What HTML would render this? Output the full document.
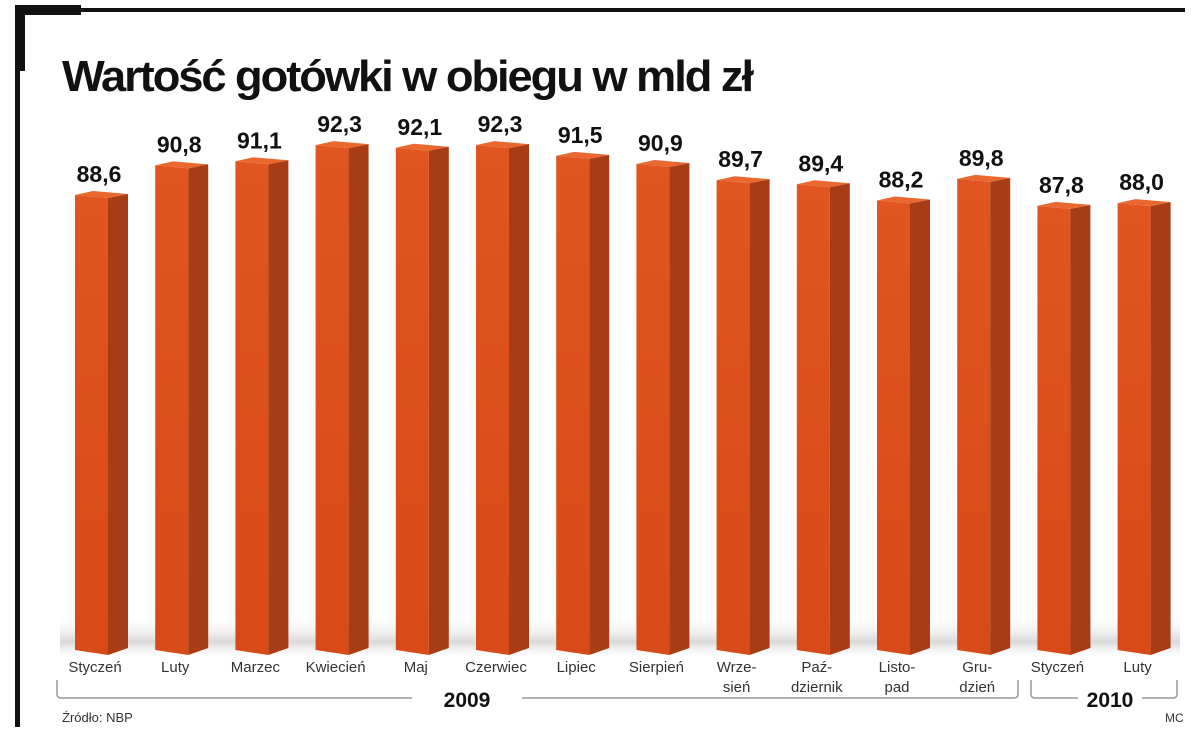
<!DOCTYPE html>
<html><head><meta charset="utf-8">
<style>
html,body{margin:0;padding:0;background:#fff;}
body{width:1200px;height:742px;overflow:hidden;position:relative;font-family:"Liberation Sans",sans-serif;}
</style></head>
<body>
<svg width="1200" height="742" viewBox="0 0 1200 742">
<defs>
<linearGradient id="fg" x1="0" y1="0" x2="0" y2="1">
<stop offset="0" stop-color="#e05520"/><stop offset="1" stop-color="#d84a18"/></linearGradient>
<linearGradient id="sh" x1="0" y1="0" x2="0" y2="1">
<stop offset="0" stop-color="#fff" stop-opacity="0"/><stop offset="0.6" stop-color="#d8d8d8"/><stop offset="1" stop-color="#fff" stop-opacity="0"/></linearGradient>
</defs>
<rect x="15" y="8" width="1170" height="4" fill="#111"/>
<rect x="15" y="5" width="66" height="10" fill="#111"/>
<rect x="15" y="5" width="10" height="66" fill="#111"/>
<rect x="15" y="5" width="5" height="722" fill="#111"/>
<text x="62" y="91" font-size="44" font-weight="bold" fill="#111" letter-spacing="-2" textLength="690" lengthAdjust="spacingAndGlyphs">Wartość gotówki w obiegu w mld zł</text>
<rect x="60" y="615" width="1120" height="45" fill="url(#sh)"/>
<g id="bars"></g>
<g id="labels"></g>
<path d="M57 680 v14 q0 4 4 4 H412 M522 698 H1014 q4 0 4 -4 v-14" stroke="#999" stroke-width="1.5" fill="none"/>
<text x="467" y="707" font-size="21" font-weight="bold" text-anchor="middle" fill="#111">2009</text>
<path d="M1031 680 v14 q0 4 4 4 H1078 M1142 698 H1173 q4 0 4 -4 v-14" stroke="#999" stroke-width="1.5" fill="none"/>
<text x="1110" y="707" font-size="21" font-weight="bold" text-anchor="middle" fill="#111">2010</text>
<text x="62" y="722" font-size="13" fill="#333">Źródło: NBP</text>
<text x="1165" y="722" font-size="12" fill="#333">MC</text>
</svg>
<script>
const categories=[["Styczeń"],["Luty"],["Marzec"],["Kwiecień"],["Maj"],["Czerwiec"],["Lipiec"],["Sierpień"],["Wrze-","sień"],["Paź-","dziernik"],["Listo-","pad"],["Gru-","dzień"],["Styczeń"],["Luty"]];
const values=[88.6,90.8,91.1,92.3,92.1,92.3,91.5,90.9,89.7,89.4,88.2,89.8,87.8,88.0];
const valueLabels=["88,6","90,8","91,1","92,3","92,1","92,3","91,5","90,9","89,7","89,4","88,2","89,8","87,8","88,0"];
const NS="http://www.w3.org/2000/svg";
const yBase=650;
function y(v){return yBase-(v-54.9)*13.5;}
function x(i){return 75+i*80.2;}
const gb=document.getElementById('bars'),gl=document.getElementById('labels');
values.forEach((v,i)=>{
  const x0=x(i),t=y(v),fw=33,sw=20;
  const g=document.createElementNS(NS,'g');
  
  
  const f=document.createElementNS(NS,'path');
  f.setAttribute('d',`M${x0} ${t} L${x0+fw} ${t+3} L${x0+fw} ${yBase+5} L${x0} ${yBase} Z`);
  f.setAttribute('fill','url(#fg)');
  
  
  const s=document.createElementNS(NS,'path');
  s.setAttribute('d',`M${x0+fw} ${t+3} L${x0+fw+sw} ${t-1} L${x0+fw+sw} ${yBase-2} L${x0+fw} ${yBase+5} Z`);
  s.setAttribute('fill','#a83c14');
  
  
  const tp=document.createElementNS(NS,'path');
  tp.setAttribute('d',`M${x0} ${t} L${x0+18} ${t-4} L${x0+fw+sw} ${t-1} L${x0+fw} ${t+3} Z`);
  tp.setAttribute('fill','#e8682e');
  
  
  g.appendChild(f);g.appendChild(s);g.appendChild(tp);gb.appendChild(g);
  const vl=document.createElementNS(NS,'text');
  vl.setAttribute('x',x0+24);vl.setAttribute('y',t-13);
  vl.setAttribute('font-size','23');vl.setAttribute('font-weight','bold');
  vl.setAttribute('text-anchor','middle');vl.setAttribute('fill','#111');
  
  
  vl.textContent=valueLabels[i];gl.appendChild(vl);
  categories[i].forEach((ln,k)=>{
    const c=document.createElementNS(NS,'text');
    c.setAttribute('x',x0+20);c.setAttribute('y',672+k*20);
    c.setAttribute('font-size','15');c.setAttribute('text-anchor','middle');c.setAttribute('fill','#333');
    
    
    c.textContent=ln;gl.appendChild(c);
  });
});
</script>
</body></html>
